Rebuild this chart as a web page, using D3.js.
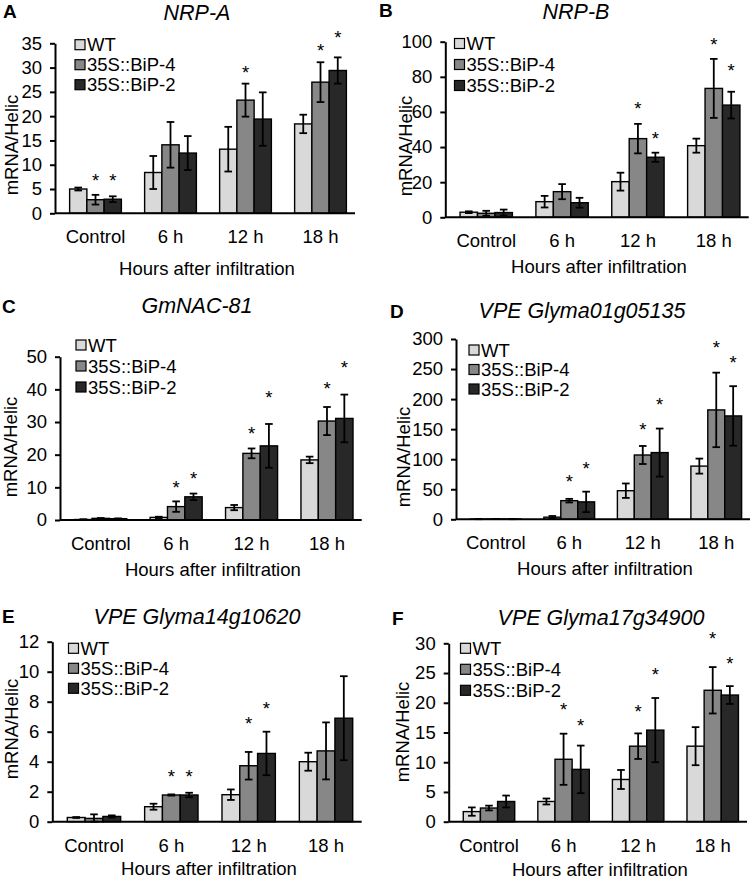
<!DOCTYPE html>
<html>
<head>
<meta charset="utf-8">
<script src="https://cdn.jsdelivr.net/npm/d3@7"></script>
<style>
  html, body { margin: 0; padding: 0; background: #fff; }
  svg { display: block; font-family: "Liberation Sans", Arial, sans-serif; }
</style>
</head>
<body>
<svg id="chart" width="754" height="880"></svg>
<script>
// ---------------- DATA ----------------
const categories = ["Control", "6 h", "12 h", "18 h"];
const seriesNames = ["WT", "35S::BiP-4", "35S::BiP-2"];
const panelLetters = ["A", "B", "C", "D", "E", "F"];
const geneTitles = ["NRP-A", "NRP-B", "GmNAC-81", "VPE Glyma01g05135", "VPE Glyma14g10620", "VPE Glyma17g34900"];
const yTicksList = [
  [0, 5, 10, 15, 20, 25, 30, 35],
  [0, 20, 40, 60, 80, 100],
  [0, 10, 20, 30, 40, 50],
  [0, 50, 100, 150, 200, 250, 300],
  [0, 2, 4, 6, 8, 10, 12],
  [0, 5, 10, 15, 20, 25, 30]
];
// means: [WT, BiP-4, BiP-2] x categories
const meansA = [[5.0, 8.4, 13.2, 18.4], [2.8, 14.1, 23.3, 27.0], [2.9, 12.4, 19.4, 29.4]];
const errA   = [[0.3, 3.4, 4.6, 1.9],   [1.0, 4.7, 3.4, 4.1],    [0.6, 3.5, 5.5, 2.7]];
const starA  = [[null, null, null, null], [7.5, null, 29.9, 34.3], [7.5, null, null, 37.1]];

const meansB = [[2.9, 8.9, 20.3, 40.8], [2.3, 14.6, 44.8, 73.4], [2.7, 8.3, 34.2, 63.9]];
const errB   = [[0.5, 3.3, 5.1, 4.0],   [1.4, 4.3, 8.4, 16.8],   [1.7, 2.8, 2.6, 7.6]];
const starB  = [[null, null, null, null], [null, null, 64.5, 100.6], [null, null, 47.2, 85.8]];

const meansC = [[0.15, 0.8, 3.8, 18.4], [0.5, 4.1, 20.4, 30.3], [0.4, 7.1, 22.7, 31.1]];
const errC   = [[0.05, 0.2, 0.8, 1.0],  [0.1, 1.6, 1.5, 4.3],    [0.1, 1.0, 6.7, 7.3]];
const starC  = [[null, null, null, null], [null, 11.2, 27.6, 41.5], [null, 14.0, 38.8, 48.0]];

const meansD = [[0.3, 3.5, 47.6, 88.5], [0.5, 31, 107, 182], [0.4, 29, 111, 172]];
const errD   = [[0.1, 2, 12, 12.5],     [0.2, 3, 15, 62],    [0.2, 17, 40, 49.5]];
const starD  = [[null, null, null, null], [null, 69, 156, 293], [null, 90.5, 197, 268]];

const meansE = [[0.28, 1.0, 1.8, 4.0], [0.22, 1.78, 3.73, 4.72], [0.35, 1.78, 4.55, 6.9]];
const errE   = [[0.03, 0.2, 0.35, 0.6], [0.27, 0.04, 0.92, 1.9], [0.07, 0.15, 1.45, 2.8]];
const starE  = [[null, null, null, null], [null, 3.3, 6.8, null], [null, 3.3, 7.8, null]];

const meansF = [[1.7, 3.4, 7.1, 12.7], [2.3, 10.5, 12.7, 22.1], [3.4, 8.8, 15.4, 21.3]];
const errF   = [[0.7, 0.5, 1.6, 3.2],  [0.4, 4.3, 2.15, 3.9],   [1.0, 4.0, 5.4, 1.5]];
const starF  = [[null, null, null, null], [null, 19.6, 19.2, 31.5], [null, 16.8, 25.5, 27.2]];

const allMeans = [meansA, meansB, meansC, meansD, meansE, meansF];
const allErr = [errA, errB, errC, errD, errE, errF];
const allStars = [starA, starB, starC, starD, starE, starF];

// ---------------- LAYOUT / STYLE ----------------
const colors = ["#d9d9d9", "#878787", "#282828"];
const FONT = 18.5;
// x0,x1: x-axis extent; yTop: pixel of max tick; y0: pixel of zero
const layout = [
  {x0: 55,    x1: 355,   yTop: 43.3,  y0: 213.3, letter: [3, 18],   title: [197, 19.5],  yt: [18, 145],  xt: 275, leg: [75, 44.7, 20]},
  {x0: 445.3, x1: 748.7, yTop: 41.7,  y0: 217.3, letter: [379, 17], title: [576, 19],  yt: [412, 146], xt: 273, leg: [454.5, 43.5, 21]},
  {x0: 60,    x1: 361.7, yTop: 356.7, y0: 520,   letter: [2, 313],  title: [197, 313], yt: [17, 447],  xt: 576, leg: [76, 345, 21]},
  {x0: 456,   x1: 750,   yTop: 339,   y0: 519.3, letter: [390, 318],title: [582, 318], yt: [410, 457], xt: 575, leg: [469, 350, 19.5]},
  {x0: 52.3,  x1: 361.7, yTop: 641.7, y0: 821.7, letter: [2, 623],  title: [197, 624], yt: [18, 729],  xt: 875, leg: [68.5, 648.3, 20]},
  {x0: 448.7, x1: 747,   yTop: 643.3, y0: 821.7, letter: [392, 625],title: [601, 625], yt: [409, 732], xt: 875.5, leg: [460.5, 648.3, 21]}
];

const svg = d3.select("#chart");

layout.forEach((L, p) => {
  const g = svg.append("g");
  const ticks = yTicksList[p];
  const yMax = ticks[ticks.length - 1];
  const y = d3.scaleLinear().domain([0, yMax]).range([L.y0, L.yTop]);
  const x = d3.scaleBand().domain(categories).range([L.x0 + 3, L.x1 + 3])
    .paddingInner(0.31).paddingOuter(0.155);
  const xs = d3.scaleBand().domain(seriesNames).range([0, x.bandwidth()]);

  const means = allMeans[p], errs = allErr[p], stars = allStars[p];

  // bars
  seriesNames.forEach((s, si) => {
    const rows = categories.map((c, ci) => ({c, v: means[si][ci], e: errs[si][ci], st: stars[si][ci]}));
    const sg = g.append("g");
    sg.selectAll("rect").data(rows).join("rect")
      .attr("x", d => x(d.c) + xs(s))
      .attr("y", d => y(d.v))
      .attr("width", xs.bandwidth())
      .attr("height", d => y(0) - y(d.v))
      .attr("fill", colors[si])
      .attr("stroke", "#000")
      .attr("stroke-width", 1.4);
    // error bars
    const cx = d => x(d.c) + xs(s) + xs.bandwidth() / 2;
    const eg = sg.selectAll("g.err").data(rows).join("g").attr("class", "err");
    eg.append("line")
      .attr("x1", cx).attr("x2", cx)
      .attr("y1", d => y(Math.max(0, d.v - d.e))).attr("y2", d => y(d.v + d.e))
      .attr("stroke", "#000").attr("stroke-width", 1.8);
    eg.append("line")
      .attr("x1", d => cx(d) - 3.8).attr("x2", d => cx(d) + 3.8)
      .attr("y1", d => y(d.v + d.e)).attr("y2", d => y(d.v + d.e))
      .attr("stroke", "#000").attr("stroke-width", 1.8);
    eg.append("line")
      .attr("x1", d => cx(d) - 3.8).attr("x2", d => cx(d) + 3.8)
      .attr("y1", d => y(Math.max(0, d.v - d.e))).attr("y2", d => y(Math.max(0, d.v - d.e)))
      .attr("stroke", "#000").attr("stroke-width", 1.8);
    // significance stars
    sg.selectAll("text.star").data(rows.filter(d => d.st != null)).join("text")
      .attr("class", "star")
      .attr("x", cx)
      .attr("y", d => y(d.st) + 10.5)
      .attr("text-anchor", "middle")
      .attr("font-size", FONT)
      .text("*");
  });

  // y axis
  const yAxis = d3.axisLeft(y).tickValues(ticks).tickSize(5).tickSizeOuter(0).tickPadding(8);
  const ya = g.append("g").attr("transform", `translate(${L.x0},0)`).call(yAxis);
  ya.select(".domain").attr("stroke", "#000").attr("stroke-width", 2);
  ya.selectAll(".tick line").attr("stroke", "#000").attr("stroke-width", 2);
  ya.selectAll(".tick text").attr("font-size", FONT).attr("fill", "#000")
    .attr("font-family", "Liberation Sans, Arial, sans-serif");

  // x axis (no ticks)
  const xAxis = d3.axisBottom(x).tickSize(0).tickPadding(0);
  const xa = g.append("g").attr("transform", `translate(0,${L.y0})`).call(xAxis);
  xa.select(".domain").attr("d", `M${L.x0},0H${L.x1}`).attr("stroke", "#000").attr("stroke-width", 2);
  xa.selectAll(".tick text").attr("font-size", FONT).attr("fill", "#000")
    .attr("dy", null).attr("y", 30)
    .attr("font-family", "Liberation Sans, Arial, sans-serif");

  // x title
  g.append("text")
    .attr("x", (L.x0 + L.x1) / 2 + 2).attr("y", L.xt)
    .attr("text-anchor", "middle").attr("font-size", FONT)
    .text("Hours after infiltration");

  // y title
  g.append("text")
    .attr("transform", `translate(${L.yt[0]},${L.yt[1]}) rotate(-90)`)
    .attr("text-anchor", "middle").attr("font-size", FONT)
    .text("mRNA/Helic");

  // gene title
  g.append("text")
    .attr("x", L.title[0]).attr("y", L.title[1])
    .attr("text-anchor", "middle").attr("font-size", 21.5).attr("font-style", "italic")
    .text(geneTitles[p]);

  // panel letter
  g.append("text")
    .attr("x", L.letter[0]).attr("y", L.letter[1])
    .attr("font-size", 19).attr("font-weight", "bold")
    .text(panelLetters[p]);

  // legend
  const lg = g.append("g");
  seriesNames.forEach((s, si) => {
    const cy = L.leg[1] + si * L.leg[2];
    lg.append("rect")
      .attr("x", L.leg[0]).attr("y", cy - 5)
      .attr("width", 10).attr("height", 10)
      .attr("fill", colors[si]).attr("stroke", "#000").attr("stroke-width", 1.2);
    lg.append("text")
      .attr("x", L.leg[0] + 12).attr("y", cy + 6.5)
      .attr("font-size", FONT)
      .text(s);
  });
});
</script>
</body>
</html>
